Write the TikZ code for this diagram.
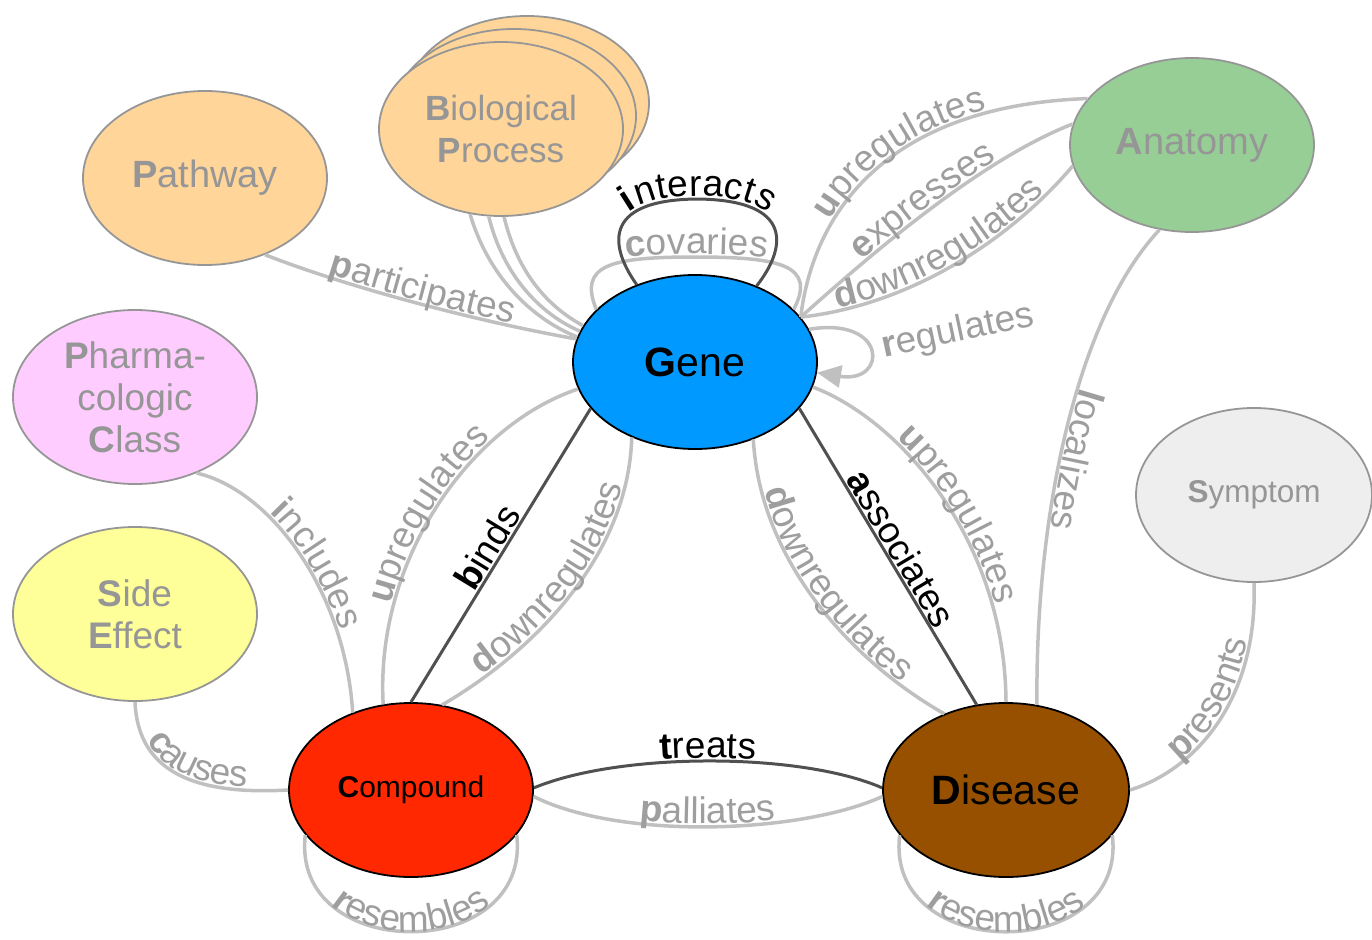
\documentclass[tikz,border=0pt]{standalone}
\usepackage{fontspec}
\setmainfont{Liberation Sans}
\usetikzlibrary{shapes.geometric,decorations.text,arrows.meta}
\definecolor{edgegray}{RGB}{192,192,192}
\definecolor{edgedark}{RGB}{80,80,80}
\definecolor{txtgray}{RGB}{150,150,150}
\definecolor{lblgray}{RGB}{158,158,158}
\definecolor{genec}{RGB}{0,153,255}
\definecolor{compc}{RGB}{255,40,0}
\definecolor{disc}{RGB}{150,80,0}
\definecolor{anac}{RGB}{150,206,150}
\definecolor{orc}{RGB}{255,213,153}
\definecolor{pcc}{RGB}{255,204,255}
\definecolor{sec}{RGB}{255,255,153}
\definecolor{symc}{RGB}{238,238,238}
\newcommand\lgf{\fontsize{37}{37}\selectfont\color{lblgray}}
\newcommand\dkf{\fontsize{37}{37}\selectfont\color{black}}
\tikzset{
  ent/.style={ellipse, minimum width=244pt, minimum height=174pt, inner sep=0pt, line width=1.8pt},
  faded/.style={ent, draw=txtgray, text=txtgray, font=\fontsize{37}{42}\selectfont, align=center},
  core/.style={ent, draw=black, text=black},
  gedge/.style={draw=edgegray, line width=3.5pt},
  dedge/.style={draw=edgedark, line width=3pt},
  lab/.style={postaction={decorate, decoration={text along path, text align=center, raise=3pt, text={#1}}}},
  labl/.style={postaction={decorate, decoration={text along path, text align=center, raise=0pt, text={#1}}}},
}
\begin{document}
\begin{tikzpicture}[x=1pt,y=-1pt]
\useasboundingbox (0,0) rectangle (1372,939);
% nodes
\node[faded, fill=orc] (bp3) at (527,103) {};
\node[faded, fill=orc] (bp2) at (514,116) {};
\node[faded, fill=orc, font=\fontsize{35}{42}\selectfont] (bp) at (501,129) {\textbf{B}iological\\\textbf{P}rocess};
\node[faded, fill=orc, font=\fontsize{38}{42}\selectfont] (pathway) at (205,178) {\textbf{P}athway};
\node[faded, fill=anac, font=\fontsize{38}{42}\selectfont] (anatomy) at (1192,145) {\textbf{A}natomy};
\node[faded, fill=pcc] (pc) at (135,397) {\textbf{P}harma-\\cologic\\\textbf{C}lass};
\node[faded, fill=sec] (se) at (135,614) {\textbf{S}ide\\\textbf{E}ffect};
\node[faded, fill=symc, font=\fontsize{31.5}{36}\selectfont, minimum width=236pt] (symptom) at (1254,495) {\textbf{S}ymptom};
\node[core, fill=genec, font=\fontsize{41}{46}\selectfont] (gene) at (695,362) {\textbf{G}ene};
\node[core, fill=compc, font=\fontsize{30}{36}\selectfont] (compound) at (411,790) {\textbf{C}ompound};
\node[core, fill=disc, font=\fontsize{41}{46}\selectfont, minimum width=246pt] (disease) at (1006,790) {\textbf{D}isease};

% Pathway -- Gene
\draw[gedge, lab={|\lgf\bfseries|p|\lgf|articipates}] (pathway.-52) .. controls (350,288) and (480,322) .. (gene.169);
% Biological Process -- Gene
\draw[gedge] (bp.250) .. controls (488,275) and (530,318) .. (gene.168);
\draw[gedge] (bp.262) .. controls (503,275) and (540,314) .. (gene.165);
\draw[gedge] (bp.272) .. controls (518,275) and (550,308) .. (gene.162);
% Gene self loops
\draw[gedge, lab={|\lgf\bfseries|c|\lgf|ovaries}] (gene.152) .. controls (578,265) and (610,257) .. (695,257) .. controls (780,257) and (817,265) .. (gene.28);
\draw[dedge, lab={|\dkf\bfseries|i|\dkf|nteracts}] (gene.127) .. controls (612,250) and (598,200) .. (697,199) .. controls (797,200) and (785,250) .. (gene.51);
\draw[gedge, -{Triangle[length=24pt,width=22pt]}, edgegray] (gene.16) .. controls (888,316) and (888,384) .. (gene.-5);
\node[rotate=12, text=lblgray, font=\fontsize{37}{37}\selectfont] (reglbl) at (958,332) {\textbf{r}egulates};
% Gene -- Anatomy
\draw[gedge, lab={|\lgf\bfseries|u|\lgf|pregulates}] (gene.23) .. controls (815,200) and (900,105) .. (anatomy.156);
\draw[gedge, lab={|\lgf\bfseries|e|\lgf|xpresses}] (gene.23) .. controls (870,255) and (980,160) .. (anatomy.170);
\draw[gedge, lab={|\lgf\bfseries|d|\lgf|ownregulates}] (gene.23) .. controls (910,305) and (1010,240) .. (anatomy.190);
% Anatomy -- Disease
\draw[gedge, lab={|\lgf\bfseries|l|\lgf|ocalizes}] (anatomy.249) .. controls (1075,320) and (1035,520) .. (disease.70);
% Disease -- Symptom
\draw[gedge, lab={|\lgf\bfseries|p|\lgf|resents}] (disease.0) .. controls (1195,770) and (1258,700) .. (symptom.270);
% Compound -- Gene
\draw[gedge, lab={|\lgf\bfseries|u|\lgf|pregulates}] (compound.108) .. controls (375,560) and (470,425) .. (gene.193);
\draw[dedge, lab={|\dkf\bfseries|b|\dkf|inds}] (compound.90) -- (gene.204);
\draw[gedge, lab={|\lgf\bfseries|d|\lgf|ownregulates}] (compound.70) .. controls (520,660) and (628,565) .. (gene.230);
% Gene -- Disease
\draw[gedge, lab={|\lgf\bfseries|d|\lgf|ownregulates}] (gene.-53) .. controls (760,560) and (850,660) .. (disease.129);
\draw[dedge, lab={|\dkf\bfseries|a|\dkf|ssociates}] (gene.-24) -- (disease.109);
\draw[gedge, lab={|\lgf\bfseries|u|\lgf|pregulates}] (gene.-12) .. controls (900,420) and (1005,540) .. (disease.90);
% Compound -- Disease
\draw[dedge, lab={|\dkf\bfseries|t|\dkf|reats}] (compound.1) .. controls (620,752) and (800,752) .. (disease.179);
\draw[gedge, lab={|\lgf\bfseries|p|\lgf|alliates}] (compound.-3) .. controls (620,840) and (800,834) .. (disease.183);
% Pharmacologic Class / Side Effect -- Compound
\draw[gedge, lab={|\lgf\bfseries|i|\lgf|ncludes}] (pc.-51) .. controls (270,490) and (345,590) .. (compound.127);
\draw[gedge, lab={|\lgf\bfseries|c|\lgf|auses}] (se.270) .. controls (138,775) and (200,795) .. (compound.180);
% resembles loops
\draw[gedge, labl={|\lgf\bfseries|r|\lgf|esembles}] (compound.203) .. controls (290,964) and (532,964) .. (compound.-23);
\draw[gedge, labl={|\lgf\bfseries|r|\lgf|esembles}] (disease.203) .. controls (884,964) and (1128,964) .. (disease.-23);
\end{tikzpicture}
\end{document}
